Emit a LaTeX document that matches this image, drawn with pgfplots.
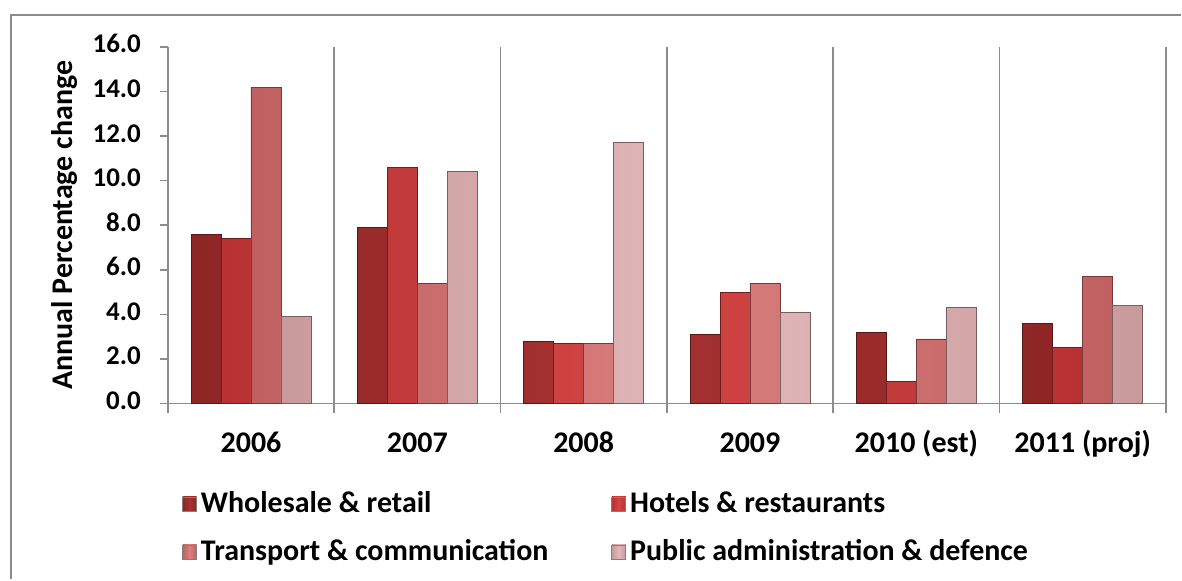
\documentclass[border=0pt]{standalone}
\usepackage{pgfplots}
\pgfplotsset{compat=1.18}
\usepackage{fontspec}
\setmainfont{Carlito}
\definecolor{sA}{HTML}{8E2626}
\definecolor{sAl}{HTML}{A83232}
\definecolor{sB}{HTML}{B83232}
\definecolor{sBl}{HTML}{D24545}
\definecolor{sC}{HTML}{C06060}
\definecolor{sCl}{HTML}{DA7E7E}
\definecolor{sD}{HTML}{C99A9C}
\definecolor{sDl}{HTML}{E2B8BA}
\definecolor{frame}{HTML}{8C8C8C}
\begin{document}
\begin{tikzpicture}
\path (0pt,0pt) rectangle (591pt,290pt);
\draw[frame, line width=1.2pt] (5.5pt,0pt) -- (5.5pt,282.5pt) -- (591pt,282.5pt);
\begin{axis}[
  at={(84pt,88pt)}, anchor=south west,
  scale only axis, width=499.5pt, height=178.5pt,
  xmin=-0.5, xmax=5.5, ymin=0, ymax=16,
  ybar=0pt, bar width=15pt,
  axis x line=bottom, axis y line=left,
  axis line style={frame, line width=0.8pt, -},
  xtick={0,1,2,3,4,5},
  xticklabels={2006,2007,2008,2009,2010 (est),2011 (proj)},
  major x tick style={draw=none},
  minor xtick={-0.5,0.5,1.5,2.5,3.5,4.5,5.5},
  minor x grid style={frame, line width=0.8pt},
  xminorgrids,
  minor tick length=4.5pt,
  tick align=outside,
  ytick={0,2,...,16},
  major tick length=4pt,
  y tick style={frame, line width=0.8pt},
  x tick style={frame, line width=0.8pt},
  /pgf/number format/.cd, fixed, fixed zerofill, precision=1, assume math mode=true, /pgfplots/.cd,
  yticklabel style={font=\fontsize{13.5}{15}\selectfont\bfseries, xshift=-6pt},
  typeset ticklabels with strut,
  xticklabel style={font=\fontsize{15}{17}\selectfont\bfseries, yshift=-5pt},
  ylabel={Annual Percentage change},
  every axis y label/.style={at={(axis description cs:0,0.5)}, xshift=-51.5pt, rotate=90, anchor=center, font=\fontsize{15}{17}\selectfont\bfseries},
  legend columns=2,
  legend cell align=left,
  legend style={at={(axis description cs:0,0)}, anchor=north west, xshift=4pt, yshift=-40pt, draw=none, fill=none,
    font=\fontsize{15}{17}\selectfont\bfseries,
    /tikz/every even column/.append style={column sep=29.5pt},
    row sep=8pt},
  legend image code/.code={\draw[#1, draw=black!50] (0pt,-3.5pt) rectangle (7pt,3.5pt);},
  clip=false,
]
\addplot[draw=sA!60!black, left color=sA, right color=sA, middle color=sAl] coordinates {(0,7.6) (1,7.9) (2,2.8) (3,3.1) (4,3.2) (5,3.6)};
\addplot[draw=sB!60!black, left color=sB, right color=sB, middle color=sBl] coordinates {(0,7.4) (1,10.6) (2,2.7) (3,5.0) (4,1.0) (5,2.5)};
\addplot[draw=sC!60!black, left color=sC, right color=sC, middle color=sCl] coordinates {(0,14.2) (1,5.4) (2,2.7) (3,5.4) (4,2.9) (5,5.7)};
\addplot[draw=sD!60!black, left color=sD, right color=sD, middle color=sDl] coordinates {(0,3.9) (1,10.4) (2,11.7) (3,4.1) (4,4.3) (5,4.4)};
\legend{Wholesale \& retail, Hotels \& restaurants, Transport \& communication, Public administration \& defence}
\end{axis}
\end{tikzpicture}
\end{document}
